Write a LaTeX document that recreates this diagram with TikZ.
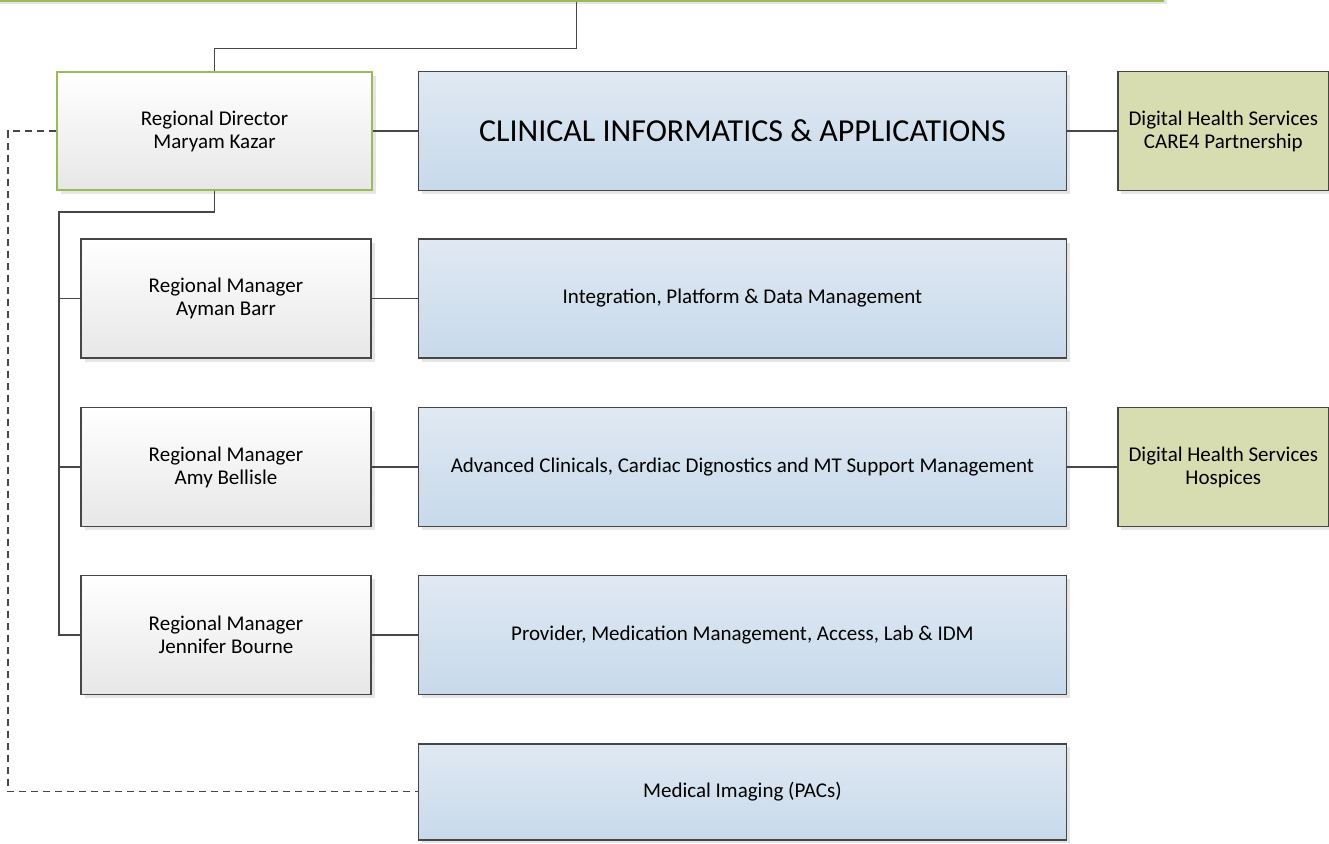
\documentclass[tikz,border=0pt]{standalone}
\usepackage{fontspec}
\setmainfont{Carlito}
\usetikzlibrary{positioning,shadows,calc}
\definecolor{leafgreen}{RGB}{155,187,89}
\definecolor{boxline}{RGB}{70,70,70}
\definecolor{progtop}{RGB}{224,233,243}
\definecolor{progbot}{RGB}{199,217,234}
\definecolor{mgrbot}{RGB}{231,231,231}
\definecolor{dhsfill}{RGB}{215,221,177}
\tikzset{
  every picture/.style={line width=1pt},
  box/.style={draw=boxline,line width=1.4pt,rectangle,align=center,inner sep=2pt,
    font=\fontsize{21}{23}\selectfont,
    drop shadow={shadow xshift=3.5pt,shadow yshift=-3.5pt,fill=black,opacity=0.10}},
  head/.style={box,draw=leafgreen,top color=white,bottom color=mgrbot,minimum width=315pt,minimum height=118pt},
  mgr/.style={box,top color=white,bottom color=mgrbot,minimum width=290pt,minimum height=119pt},
  prog/.style={box,top color=progtop,bottom color=progbot,minimum width=648pt,minimum height=119pt},
  dhs/.style={box,fill=dhsfill,minimum width=211pt,minimum height=119pt},
  conn/.style={draw=boxline,line width=1.1pt},
  dashlink/.style={draw=boxline,line width=1.1pt,dash pattern=on 7pt off 5pt},
}

\begin{document}
\begin{tikzpicture}[x=1pt,y=-1pt]
\useasboundingbox (0,0) rectangle (1329,843);
\clip (0,0) rectangle (1329,843);
% top level (cut off at the page edge)
\node[head,minimum width=1173pt,minimum height=60pt] (exec) at (576.5,-29) {};
% regional director and department
\node[head] (dir) at (214.5,131) {Regional Director\\Maryam Kazar};
\node[prog,right=45pt of dir,font=\fontsize{32}{36}\selectfont] (clin) {CLINICAL INFORMATICS \& APPLICATIONS};
\node[dhs,right=50pt of clin] (dhsA) {Digital Health Services\\CARE4 Partnership};
% regional managers
\node[mgr] (mgrA) at (226,298.5) {Regional Manager\\Ayman Barr};
\node[mgr] (mgrB) at (226,467) {Regional Manager\\Amy Bellisle};
\node[mgr] (mgrC) at (226,635) {Regional Manager\\Jennifer Bourne};
% programs
\node[prog,right=46pt of mgrA] (progA) {Integration, Platform \& Data Management};
\node[prog,right=46pt of mgrB] (progB) {Advanced Clinicals, Cardiac Dignostics and MT Support Management};
\node[prog,right=46pt of mgrC] (progC) {Provider, Medication Management, Access, Lab \& IDM};
\node[prog,minimum height=96pt,below=48pt of progC] (imaging) {Medical Imaging (PACs)};
\node[dhs,right=50pt of progB] (dhsB) {Digital Health Services\\Hospices};
% connectors
\coordinate (trunk) at (59,212);
\coordinate (dashx) at (8,0);
\draw[conn] (exec.south) -- ++(0,47) -| (dir.north);
\draw[conn] (dir.east) -- (clin.west |- dir.east);
\draw[conn] (clin.east |- dhsA.west) -- (dhsA.west);
\draw[conn] (dir.south) |- (trunk) -- (trunk |- mgrC.west) -- (mgrC.west);
\foreach \m in {mgrA,mgrB}
  \draw[conn] (trunk |- \m.west) -- (\m.west);
\foreach \m in {A,B,C}
  \draw[conn] (mgr\m.east) -- (prog\m.west);
\draw[conn] (progB.east) -- (dhsB.west);
\draw[dashlink] (dir.west) -| (dashx |- imaging.west) -- (imaging.west);
\end{tikzpicture}
\end{document}
